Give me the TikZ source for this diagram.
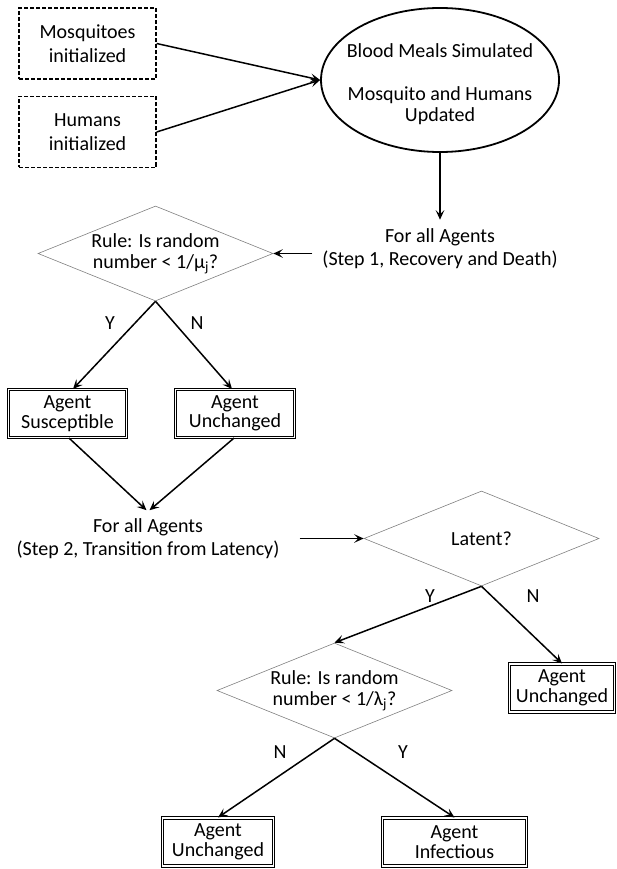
\documentclass[tikz,border=0pt]{standalone}
\usepackage{fontspec}
\setmainfont{Carlito}
\usetikzlibrary{shapes.geometric,arrows.meta,calc}
\begin{document}
\begin{tikzpicture}[x=1pt,y=-1pt,
  txt/.style={align=center, font=\fontsize{20}{23}\selectfont},
  initbox/.style={draw, align=center, line width=1.3pt, dash pattern=on 4pt off 2pt,
    minimum width=137pt, minimum height=71pt, inner sep=0pt,
    font=\fontsize{20}{24.5}\selectfont},
  agentbox/.style={draw, align=center, line width=1.1pt, double, double distance=1.4pt,
    inner sep=0pt, minimum height=48pt, font=\fontsize{20}{19.5}\selectfont},
  dec/.style={draw=black!50, align=center, line width=0.6pt, diamond, aspect=2.47,
    inner sep=0pt, minimum width=235pt, minimum height=95pt,
    font=\fontsize{20}{21}\selectfont},
  arr/.style={line width=1.5pt, -{Stealth[length=9.5pt,width=8.5pt,inset=4pt]}},
  yn/.style={font=\fontsize{20}{21}\selectfont, inner sep=0pt}
]
\useasboundingbox (0,0) rectangle (617,869);

% top part
\node[initbox] (mosq) at (87.5,43.5) {Mosquitoes\\initialized};
\node[initbox] (hum) at (87.5,132) {Humans\\initialized};
\node[ellipse, draw, line width=1.8pt, minimum width=238pt, minimum height=144pt, inner sep=0pt] (ell) at (440,80) {};
\node[align=center, font=\fontsize{20}{21}\selectfont] (elltext) at (440,84)
  {Blood Meals Simulated\\[22pt]Mosquito and Humans\\Updated};
\draw[arr] (mosq.east) -- (ell.west);
\draw[arr] (hum.east) -- (ell.west);

\node[txt, inner sep=0pt] (step1) at (440,249) {For all Agents\\(Step 1, Recovery and Death)};
\draw[arr] (ell.south) -- ([yshift=9pt]step1.north);

% decision 1
\node[dec] (d1) at (155.5,253.5) {Rule: Is random\\number < 1/μ\textsubscript{j}?};
\draw[arr] ($(d1.east)+(39,0)$) -- (d1.east);
\node[yn] (y1) at (110,323) {Y};
\node[yn] (n1) at (197,323) {N};
\node[agentbox, minimum width=118pt] (sus) at (67.5,413.5) {Agent\\Susceptible};
\node[agentbox, minimum width=119pt] (unc1) at (235,413.5) {Agent\\Unchanged};
\draw[arr] (d1.south) -- ($(sus.north)+(5.5,0)$);
\draw[arr] (d1.south) -- ($(unc1.north)+(-3,0)$);

% step 2
\node[txt, inner sep=0pt] (step2) at (148,538.5) {For all Agents\\(Step 2, Transition from Latency)};
\draw[arr] ($(sus.south)+(1.5,0)$) -- ([xshift=-1.5pt,yshift=8pt]step2.north);
\draw[arr] ($(unc1.south)+(-1,0)$) -- ([xshift=1.5pt,yshift=8pt]step2.north);

% decision 2
\node[dec] (d2) at (481.5,538.5) {Latent?};
\draw[arr] ($(step2.east)+(20,0)$) -- (d2.west);
\node[yn] (y2) at (430,596) {Y};
\node[yn] (n2) at (533,596) {N};
\node[agentbox, minimum width=105pt] (unc2) at (562,688) {Agent\\Unchanged};
\draw[arr] (d2.south) -- (unc2.north);

% decision 3
\node[dec] (d3) at (334.5,690.5) {Rule: Is random\\number < 1/λ\textsubscript{j}?};
\draw[arr] (d2.south) -- (d3.north);
\node[yn] (n3) at (280,752) {N};
\node[yn] (y3) at (403,752) {Y};
\node[agentbox, minimum width=111pt] (unc3) at (218,842) {Agent\\Unchanged};
\node[agentbox, minimum width=144pt] (inf) at (454.5,842) {Agent\\Infectious};
\draw[arr] (d3.south) -- (unc3.north);
\draw[arr] (d3.south) -- (inf.north);
\end{tikzpicture}
\end{document}
